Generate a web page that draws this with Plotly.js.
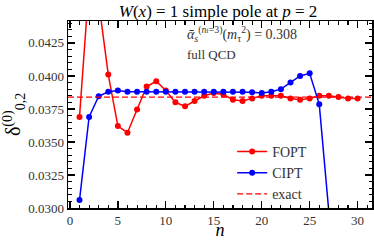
<!DOCTYPE html>
<html>
<head>
<meta charset="utf-8">
<script src="https://cdn.plot.ly/plotly-3.0.1.min.js"></script>
<style>html,body{margin:0;padding:0;background:#fff;}#chart{width:374px;height:240px;}</style>
</head>
<body>
<div id="chart"></div>
<script>
const fopt_n = [1,2,3,4,5,6,7,8,9,10,11,12,13,14,15,16,17,18,19,20,21,22,23,24,25,26,27,28,29,30];
const fopt_v = [0.0369,0.0470,0.0456,0.0401,0.0362,0.0357,0.03746,0.0392,0.0396,0.0389,0.0380,0.0377,0.0381,0.0385,0.0387,0.0386,0.0382,0.0381,0.0383,0.0385,0.0385,0.0385,0.0383,0.0382,0.0383,0.0385,0.0385,0.0384,0.0383,0.0383];
const cipt_n = [1,2,3,4,5,6,7,8,9,10,11,12,13,14,15,16,17,18,19,20,21,22,23,24,25,26,27];
const cipt_v = [0.0306,0.0369,0.03846,0.0388,0.0389,0.0388,0.0388,0.0388,0.0388,0.0388,0.0388,0.0388,0.0388,0.0388,0.0388,0.0388,0.0388,0.0388,0.03876,0.0387,0.0388,0.0390,0.0395,0.0400,0.0402,0.03785,0.0297];
const exact_v = 0.0384;
const exact_n = [-0.2, 31.5];
const yTicks = [0.0300,0.0325,0.0350,0.0375,0.0400,0.0425];
const xTicks = [0,5,10,15,20,25,30];

const font = 'Liberation Serif';
const traces = [
  {x: fopt_n, y: fopt_v, mode: 'lines+markers', name: 'FOPT',
   line: {color: '#ff0000', width: 1.5}, marker: {color: '#ff0000', size: 6}},
  {x: cipt_n, y: cipt_v, mode: 'lines+markers', name: 'CIPT',
   line: {color: '#0000ff', width: 1.5}, marker: {color: '#0000ff', size: 6}},
  {x: exact_n, y: [exact_v, exact_v], mode: 'lines', name: 'exact',
   line: {color: '#ff0000', width: 1.3, dash: '6px,3px'}}
];
const axisCommon = {
  showgrid: false, zeroline: false, showline: true, linecolor: '#000', linewidth: 1.5,
  mirror: 'allticks', ticks: 'inside', ticklen: 7, tickwidth: 1.3, tickcolor: '#000',
  tickfont: {family: font, size: 13, color: '#333'}
};
const layout = {
  width: 374, height: 240,
  margin: {l: 68, r: 2, t: 21, b: 32},
  paper_bgcolor: '#fff', plot_bgcolor: '#fff',
  font: {family: font, color: '#000'},
  title: {text: '<i>W</i>(<i>x</i>) = 1 simple pole at <i>p</i> = 2', font: {family: font, size: 17, color: '#000'},
          x: 0.583, xanchor: 'center', y: 0.955, yanchor: 'middle'},
  xaxis: Object.assign({}, axisCommon, {
    range: [-0.2, 31.5], tickvals: xTicks, ticktext: xTicks.map(String),
    minor: {dtick: 1, ticks: 'inside', ticklen: 3.5, tickwidth: 1.1, tickcolor: '#000'},
    title: {text: '<i>n</i>', font: {family: font, size: 18, color: '#000'}, standoff: 3}
  }),
  yaxis: Object.assign({}, axisCommon, {
    range: [0.0300, 0.04416], tickvals: yTicks, ticktext: yTicks.map(v => v.toFixed(4)),
    minor: {dtick: 0.0005, tick0: 0.03, ticks: 'inside', ticklen: 3.5, tickwidth: 1.1, tickcolor: '#000'},
    title: {text: 'δ<sup>(0)</sup><sub>0,2</sub>', font: {family: font, size: 20, color: '#000'}, standoff: 4}
  }),
  showlegend: true,
  legend: {x: 0.54, y: -0.01, xanchor: 'left', yanchor: 'bottom', bgcolor: 'rgba(0,0,0,0)',
           font: {family: font, size: 14, color: '#333'}, tracegroupgap: 0, itemwidth: 30},
  annotations: [
    {xref: 'paper', yref: 'paper', x: 0.385, y: 0.93, xanchor: 'left', yanchor: 'middle', showarrow: false,
     text: '<i>ᾱ</i><sub><i>s</i></sub><sup>(<i>n</i><span style="font-size:7px">f</span>=3)</sup>(<i>m</i><sub>τ</sub><sup>2</sup>) = 0.308',
     font: {family: font, size: 14, color: '#333'}},
    {xref: 'paper', yref: 'paper', x: 0.385, y: 0.82, xanchor: 'left', yanchor: 'middle', showarrow: false,
     text: 'full QCD', font: {family: font, size: 13, color: '#333'}}
  ]
};
Plotly.newPlot('chart', traces, layout, {displayModeBar: false, staticPlot: true});
</script>
</body>
</html>
